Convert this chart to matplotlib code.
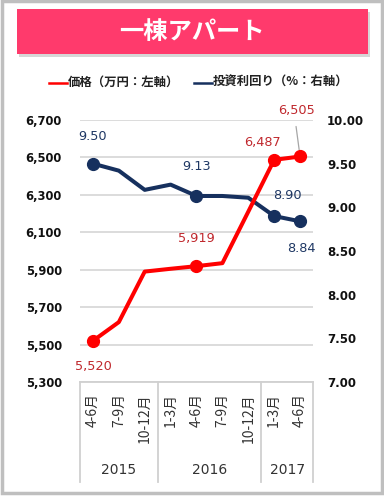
import matplotlib.pyplot as plt
from matplotlib.patches import Rectangle
from matplotlib.lines import Line2D

plt.rcParams['font.family'] = ['DejaVu Sans', 'Noto Sans CJK JP']

# data
months = ['4-6月', '7-9月', '10-12月', '1-3月', '4-6月', '7-9月', '10-12月', '1-3月', '4-6月']
years = ['2015', '2016', '2017']
year_groups = [(0, 2), (3, 6), (7, 8)]
price = [5520, 5620, 5890, 5905, 5919, 5935, 6210, 6487, 6505]
yield_pct = [9.50, 9.42, 9.20, 9.26, 9.13, 9.13, 9.11, 8.90, 8.84]
marked = [0, 4, 7, 8]

W, H = 384, 498
RED = '#FF0000'
NAVY = '#16305E'
RED_TXT = '#C0282D'
NAVY_TXT = '#1F3864'
CJK = ['Noto Sans CJK JP', 'DejaVu Sans']


def fx(x):
    return x / W


def fy(y):
    return 1 - y / H


fig = plt.figure(figsize=(W / 100, H / 100), dpi=100)

# outer frame
fig.patches.append(Rectangle((fx(1.5), fy(493)), fx(380), 491.5 / H, transform=fig.transFigure,
                             fill=False, edgecolor='#BFBFBF', linewidth=2.5))
# title box with shadow
fig.patches.append(Rectangle((fx(19), fy(57)), fx(351), 45 / H, transform=fig.transFigure,
                             facecolor='#BBBBBB', edgecolor='none', alpha=0.6))
fig.patches.append(Rectangle((fx(17), fy(54)), fx(351), 45 / H, transform=fig.transFigure,
                             facecolor='#FF3A6C', edgecolor='none'))
fig.text(fx(192), fy(32), '一棟アパート', color='white', fontsize=17.5, fontweight='bold',
         family=CJK, ha='center', va='center')

# legend
fig.lines.append(Line2D([fx(49), fx(67)], [fy(83), fy(83)], color=RED, lw=1.8, transform=fig.transFigure))
fig.text(fx(68), fy(82), '価格（万円：左軸）', fontsize=8.9, fontweight='bold', family=CJK,
         ha='left', va='center', color='#222222')
fig.lines.append(Line2D([fx(194), fx(212)], [fy(83), fy(83)], color=NAVY, lw=1.8, transform=fig.transFigure))
fig.text(fx(213), fy(82), '投資利回り（%：右軸）', fontsize=8.9, fontweight='bold', family=CJK,
         ha='left', va='center', color='#222222')

ax = fig.add_axes([fx(80), fy(382), 233 / W, 262 / H])
ax2 = ax.twinx()
pr = ax.twinx()  # price line on top of the yield line
x = list(range(len(months)))

ax.set_ylim(5300, 6700)
ax.set_yticks(range(5300, 6701, 200))
ax.set_yticklabels([f'{v:,}' for v in range(5300, 6701, 200)])
ax.set_xlim(-0.5, len(months) - 0.5)
ax.grid(axis='y', color='#D9D9D9', linewidth=1.3)
ax.set_axisbelow(True)
ax2.set_ylim(7, 10)
ax2.set_yticks([7 + 0.5 * i for i in range(7)])
ax2.set_yticklabels([f'{7 + 0.5 * i:.2f}' for i in range(7)])
pr.set_ylim(5300, 6700)
pr.axis('off')

for a in (ax, ax2):
    for s in a.spines.values():
        s.set_visible(False)
ax.tick_params(axis='y', length=0, pad=13, labelsize=8.3, labelcolor='#111111')
ax2.tick_params(axis='y', length=0, pad=10, labelsize=8.5, labelcolor='#111111')
for t in ax.get_yticklabels() + ax2.get_yticklabels():
    t.set_fontweight('bold')

ax.set_xticks(x)
ax.set_xticklabels(months, rotation=90, family=CJK, fontsize=10, color='#333333')
ax.tick_params(axis='x', length=0, pad=8)

pr.plot(x, price, color=RED, lw=2.9, solid_capstyle='round', zorder=3)
pr.plot([x[i] for i in marked], [price[i] for i in marked], 'o', color=RED, ms=8.5, zorder=4)
ax2.plot(x, yield_pct, color=NAVY, lw=2.9, zorder=3)
ax2.plot([x[i] for i in marked], [yield_pct[i] for i in marked], 'o', color=NAVY, ms=8.5, zorder=4)

# data labels
red_off = {0: (0, -26), 4: (0, 28), 7: (-12, 17), 8: (-4, 46)}
for i, (dx, dy) in red_off.items():
    pr.annotate(f'{price[i]:,}', (x[i], price[i]), xytext=(dx, dy), textcoords='offset pixels',
                ha='center', va='center', color=RED_TXT, fontsize=9.3)
pr.annotate('', (x[8], price[8]), xytext=(-4, 30), textcoords='offset pixels',
            arrowprops=dict(arrowstyle='-', color='#A6A6A6', lw=0.9, shrinkA=0, shrinkB=5))
navy_off = {0: (0, 27), 4: (0, 29), 7: (13, 21), 8: (1, -27)}
for i, (dx, dy) in navy_off.items():
    ax2.annotate(f'{yield_pct[i]:.2f}', (x[i], yield_pct[i]), xytext=(dx, dy), textcoords='offset pixels',
                 ha='center', va='center', color=NAVY_TXT, fontsize=9.3)

# category box under the plot
tr = ax.get_xaxis_transform()
ax.plot([-0.5, len(months) - 0.5], [0, 0], color='#D0D0D0', lw=1.3, transform=tr, clip_on=False)
for b in [-0.5, 2.5, 6.5, len(months) - 0.5]:
    ax.plot([b, b], [0, -100 / 262], color='#D0D0D0', lw=1.3, transform=tr, clip_on=False)
for yr, (s, e) in zip(years, year_groups):
    ax.text((s + e) / 2, -88 / 262, yr, transform=tr, ha='center', va='center',
            fontsize=10, color='#333333')

fig.savefig('out.png', dpi=100)
